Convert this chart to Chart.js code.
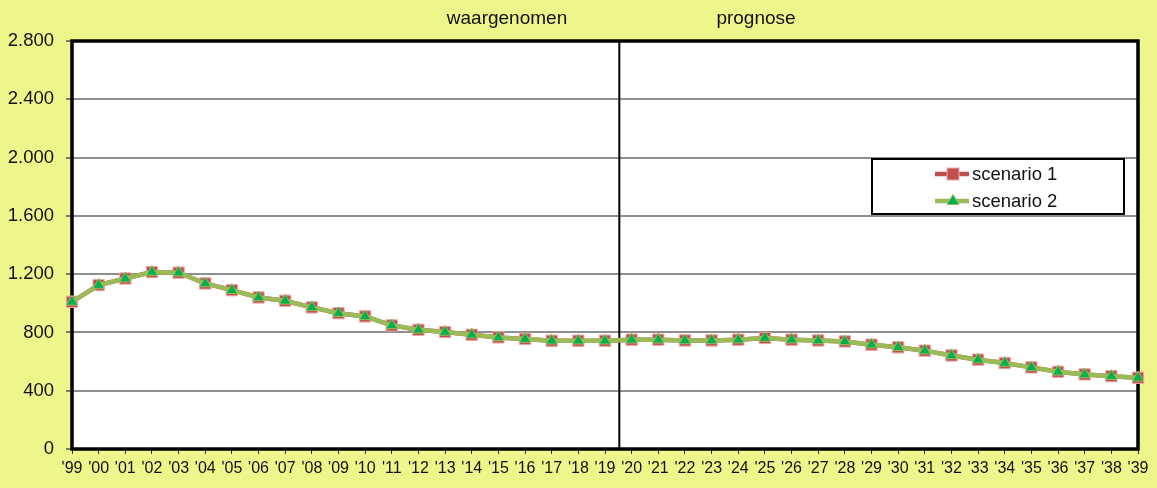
<!DOCTYPE html>
<html>
<head>
<meta charset="utf-8">
<script src="https://cdn.jsdelivr.net/npm/chart.js@4/dist/chart.umd.min.js"></script>
<style>
  body { margin: 0; background: #EEF58A; }
  canvas { display: block; }
</style>
</head>
<body>
<canvas id="canvas" width="1157" height="488"></canvas>
<script>
// jaren '99 t/m '39
var years = ["'99","'00","'01","'02","'03","'04","'05","'06","'07","'08","'09",
  "'10","'11","'12","'13","'14","'15","'16","'17","'18","'19",
  "'20","'21","'22","'23","'24","'25","'26","'27","'28","'29",
  "'30","'31","'32","'33","'34","'35","'36","'37","'38","'39"];

var scenario1 = [1010,1125,1170,1214,1210,1136,1090,1040,1017,972,932,
  910,848,818,803,784,766,755,743,743,743,
  750,750,745,745,750,762,750,745,738,716,
  698,675,642,613,590,560,530,512,500,489];

var scenario2 = [1010,1125,1170,1214,1210,1136,1090,1040,1017,972,932,
  910,848,818,803,784,766,755,743,743,743,
  750,750,745,745,750,762,750,745,738,716,
  698,675,642,613,590,560,530,512,500,489];

var yTickLabels = ['0','400','800','1.200','1.600','2.000','2.400','2.800'];
var lastObserved = 20; // '19, daarna prognose

var FONT = 'Arial, "Liberation Sans", sans-serif';

var decor = {
  id: 'decor',
  beforeDraw: function(chart) {
    var c = chart.ctx, a = chart.chartArea;
    c.save();
    c.fillStyle = '#EEF58A';
    c.fillRect(0, 0, chart.width, chart.height);
    c.fillStyle = '#ffffff';
    c.fillRect(a.left, a.top, a.right - a.left, a.bottom - a.top);
    c.restore();
  },
  beforeDatasetsDraw: function(chart) {
    var c = chart.ctx, a = chart.chartArea;
    var sx = chart.scales.x.getPixelForValue(lastObserved + 0.5);
    c.save();
    c.strokeStyle = '#000';
    c.lineWidth = 2;
    c.beginPath();
    c.moveTo(sx + 1, a.top);
    c.lineTo(sx + 1, a.bottom);
    c.stroke();
    c.lineWidth = 3.5;
    c.strokeRect(a.left, a.top, a.right - a.left, a.bottom - a.top);
    c.restore();
  },
  afterDraw: function(chart) {
    var c = chart.ctx;
    c.save();
    c.fillStyle = '#111';
    c.font = '19px ' + FONT;
    c.textAlign = 'center';
    c.textBaseline = 'middle';
    c.fillText('waargenomen', 507, 19);
    c.fillText('prognose', 756, 19);

    // legenda
    c.fillStyle = '#fff';
    c.fillRect(872, 159, 252, 55);
    c.strokeStyle = '#000';
    c.lineWidth = 2;
    c.strokeRect(872, 159, 252, 55);

    var rows = [
      {y: 174, label: 'scenario 1', line: '#C0504D'},
      {y: 201, label: 'scenario 2', line: '#9BBB59'}
    ];
    rows.forEach(function(r, i) {
      c.strokeStyle = r.line;
      c.lineWidth = 4.5;
      c.beginPath();
      c.moveTo(935, r.y);
      c.lineTo(969, r.y);
      c.stroke();
      c.lineWidth = 1;
      if (i === 0) {
        c.fillStyle = '#C0504D';
        c.strokeStyle = '#E8A9A7';
        c.fillRect(947, r.y - 6, 12, 12);
        c.strokeRect(947, r.y - 6, 12, 12);
      } else {
        c.fillStyle = '#00B050';
        c.strokeStyle = '#9BBB59';
        c.beginPath();
        c.moveTo(953, r.y - 6.5);
        c.lineTo(959, r.y + 3.5);
        c.lineTo(947, r.y + 3.5);
        c.closePath();
        c.fill();
        c.stroke();
      }
      c.fillStyle = '#111';
      c.font = '18.5px ' + FONT;
      c.textAlign = 'left';
      c.fillText(r.label, 972, r.y + 1);
    });
    c.restore();
  }
};

var ctx = document.getElementById('canvas').getContext('2d');
var chart = new Chart(ctx, {
  type: 'line',
  data: {
    labels: years,
    datasets: [
      {
        label: 'scenario 1',
        data: scenario1,
        borderColor: '#C0504D',
        borderWidth: 4.5,
        pointStyle: 'rect',
        pointRadius: 8,
        pointBackgroundColor: '#C0504D',
        pointBorderColor: '#E8A9A7',
        pointBorderWidth: 1,
        tension: 0,
        order: 1,
        clip: false
      },
      {
        label: 'scenario 2',
        data: scenario2,
        borderColor: '#9BBB59',
        borderWidth: 4.5,
        pointStyle: 'triangle',
        pointRadius: 6.5,
        pointBackgroundColor: '#00B050',
        pointBorderColor: '#9BBB59',
        pointBorderWidth: 1,
        tension: 0,
        order: 0,
        clip: false
      }
    ]
  },
  options: {
    responsive: false,
    animation: false,
    events: [],
    layout: { padding: { top: 41, right: 19, left: 0, bottom: 0 } },
    plugins: {
      legend: { display: false },
      tooltip: { enabled: false }
    },
    scales: {
      x: {
        offset: false,
        grid: { drawOnChartArea: false, tickLength: 5, tickColor: '#333', tickWidth: 1 },
        border: { display: false },
        ticks: {
          autoSkip: false, maxRotation: 0, minRotation: 0, padding: 5,
          color: '#111',
          font: { family: '"Liberation Sans Narrow", "Arial Narrow", ' + FONT, size: 16 }
        },
        afterFit: function(s) { s.height = 39; }
      },
      y: {
        min: 0, max: 2800,
        grid: { color: '#8f8f8f', lineWidth: 2, tickLength: 6, tickColor: '#555', tickWidth: 1.5 },
        border: { display: false },
        ticks: {
          stepSize: 400, padding: 12, color: '#111',
          font: { family: FONT, size: 18.5 },
          callback: function(v, i) { return yTickLabels[i]; }
        },
        afterFit: function(s) { s.width = 72; }
      }
    }
  },
  plugins: [decor]
});
</script>
</body>
</html>
